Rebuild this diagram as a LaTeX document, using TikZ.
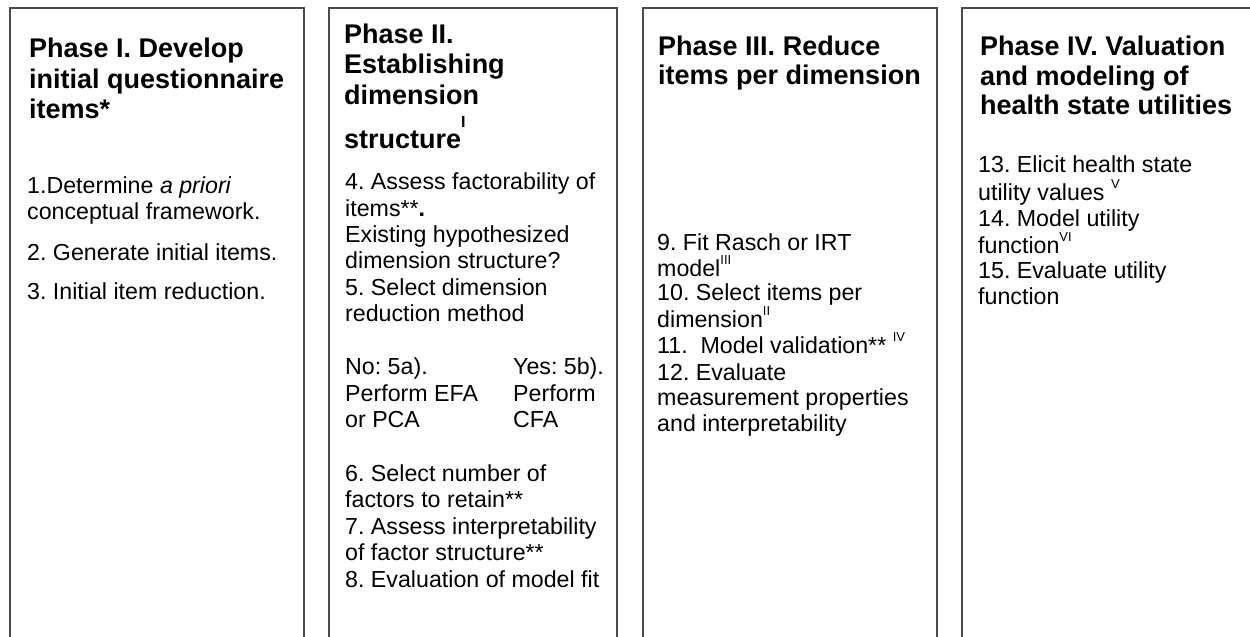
\documentclass[tikz,border=0pt]{standalone}
\usepackage{fontspec}
\setmainfont{Liberation Sans}
\frenchspacing
\begin{document}
\begin{tikzpicture}[x=1pt,y=-1pt,
  frame/.style={draw=black!70,line width=1.4pt},
  ttl/.style={anchor=base west,inner sep=0pt,font=\fontsize{27}{31}\selectfont\bfseries},
  txt/.style={anchor=base west,inner sep=0pt,font=\fontsize{23.2}{26}\selectfont},
]
\useasboundingbox (0,0) rectangle (1250,637);
\clip (0,0) rectangle (1250,637);
\newcommand\rsup[1]{\raisebox{0.5em}{\fontsize{13}{13}\selectfont #1}}
% frames
\draw[frame] (10,650) -- (10,8) -- (304,8) -- (304,650);
\draw[frame] (329,650) -- (329,8) -- (617,8) -- (617,650);
\draw[frame] (643,650) -- (643,8) -- (937,8) -- (937,650);
\draw[frame] (962,650) -- (962,8) -- (1260,8);
% Phase I
\node[ttl] (t1a) at (29,57) {Phase I. Develop};
\node[ttl] (t1b) at (29,88) {initial questionnaire};
\node[ttl] (t1c) at (29,118) {items*};
\node[txt] (a1) at (27,193) {1.Determine \textit{a priori}};
\node[txt] (a2) at (27,219) {conceptual framework.};
\node[txt] (a3) at (27,260) {2. Generate initial items.};
\node[txt] (a4) at (27,299) {3. Initial item reduction.};
% Phase II
\node[ttl] (t2a) at (344,43) {Phase II.};
\node[ttl] (t2b) at (344,73) {Establishing};
\node[ttl] (t2c) at (344,104) {dimension};
\node[ttl] (t2d) at (344,148) {structure\raisebox{0.75em}{\fontsize{16}{16}\selectfont\bfseries I}};
\node[txt] (b1) at (345,189) {4. Assess factorability of};
\node[txt] (b2) at (345,216) {items**{\bfseries .}};
\node[txt] (b3) at (345,242) {Existing hypothesized};
\node[txt] (b4) at (345,268) {dimension structure?};
\node[txt] (b5) at (345,295) {5. Select dimension};
\node[txt] (b6) at (345,321) {reduction method};
\node[txt] (b7) at (345,374) {No: 5a).};
\node[txt] (b8) at (345,401) {Perform EFA};
\node[txt] (b9) at (345,427) {or PCA};
\node[txt] (c7) at (513,374) {Yes: 5b).};
\node[txt] (c8) at (513,401) {Perform};
\node[txt] (c9) at (513,427) {CFA};
\node[txt] (b10) at (345,481) {6. Select number of};
\node[txt] (b11) at (345,507) {factors to retain**};
\node[txt] (b12) at (345,534) {7. Assess interpretability};
\node[txt] (b13) at (345,560) {of factor structure**};
\node[txt] (b14) at (345,587) {8. Evaluation of model fit};
% Phase III
\node[ttl] (t3a) at (658,55) {Phase III. Reduce};
\node[ttl] (t3b) at (658,84) {items per dimension};
\node[txt] (d1) at (657,250) {9. Fit Rasch or IRT};
\node[txt] (d2) at (657,276) {model\rsup{III}};
\node[txt] (d3) at (657,300) {10. Select items per};
\node[txt] (d4) at (657,327) {dimension\rsup{II}};
\node[txt] (d5) at (657,353) {11.\ \ Model validation** \rsup{IV}};
\node[txt] (d6) at (657,380) {12. Evaluate};
\node[txt] (d7) at (657,405) {measurement properties};
\node[txt] (d8) at (657,431) {and interpretability};
% Phase IV
\node[ttl] (t4a) at (980,55) {Phase IV. Valuation};
\node[ttl] (t4b) at (980,85) {and modeling of};
\node[ttl] (t4c) at (980,114) {health state utilities};
\node[txt] (e1) at (978,172) {13. Elicit health state};
\node[txt] (e2) at (978,200) {utility values \rsup{V}};
\node[txt] (e3) at (978,226) {14. Model utility};
\node[txt] (e4) at (978,253) {function\rsup{VI}};
\node[txt] (e5) at (978,278) {15. Evaluate utility};
\node[txt] (e6) at (978,304) {function};
\end{tikzpicture}
\end{document}
